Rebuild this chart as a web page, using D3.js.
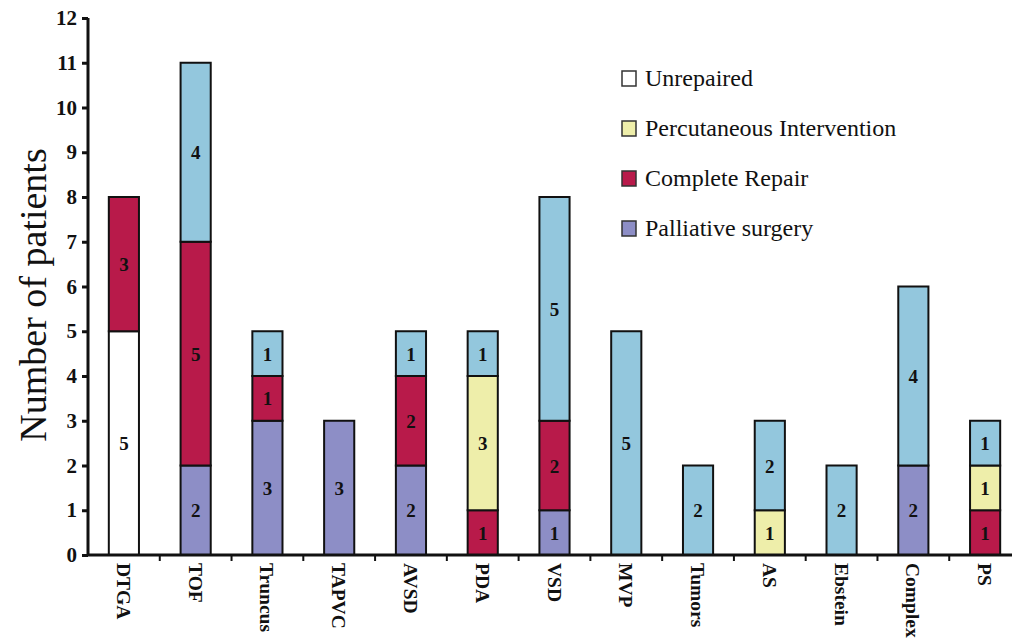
<!DOCTYPE html>
<html>
<head>
<meta charset="utf-8">
<script src="https://cdn.jsdelivr.net/npm/d3@7"></script>
<style>
body { margin: 0; background: #fff; }
text { font-family: "Liberation Serif", "DejaVu Serif", serif; }
</style>
</head>
<body>
<script>
// data
var categories = ["DTGA", "TOF", "Truncus", "TAPVC", "AVSD", "PDA", "VSD", "MVP", "Tumors", "AS", "Ebstein", "Complex", "PS"];
var unrepaired   = [5, 0, 0, 0, 0, 0, 0, 0, 0, 0, 0, 0, 0];
var palliative   = [0, 2, 3, 3, 2, 0, 1, 0, 0, 0, 0, 2, 0];
var complete     = [3, 5, 1, 0, 2, 1, 2, 0, 0, 0, 0, 0, 1];
var percutaneous = [0, 0, 0, 0, 0, 3, 0, 0, 0, 1, 0, 0, 1];
var other        = [0, 4, 1, 0, 1, 1, 5, 5, 2, 2, 2, 4, 1];
var yTicks = [0, 1, 2, 3, 4, 5, 6, 7, 8, 9, 10, 11, 12];
var legendNames = ["Unrepaired", "Percutaneous Intervention", "Complete Repair", "Palliative surgery"];

var series = [
  {key: "Unrepaired", values: unrepaired, color: "#ffffff"},
  {key: "Palliative surgery", values: palliative, color: "#8d8ec6"},
  {key: "Complete Repair", values: complete, color: "#b81a4a"},
  {key: "Percutaneous Intervention", values: percutaneous, color: "#eeeeaa"},
  {key: "Other", values: other, color: "#93c7dd"}
];
var colorOf = {};
series.forEach(function(s) { colorOf[s.key] = s.color; });

var width = 1012, height = 641;
var svg = d3.select("body").append("svg").attr("width", width).attr("height", height);

var x = d3.scaleBand().domain(categories).range([88, 1021]).paddingInner(0.58).paddingOuter(0.29);
var y = d3.scaleLinear().domain([0, 12]).range([555, 18]);

var rows = categories.map(function(c, i) {
  var r = {cat: c};
  series.forEach(function(s) { r[s.key] = s.values[i]; });
  return r;
});
var stacked = d3.stack().keys(series.map(function(s) { return s.key; }))(rows);

var layer = svg.selectAll(".layer").data(stacked).enter().append("g").attr("class", "layer");
layer.selectAll("rect")
  .data(function(d) { return d.map(function(v) { return {key: d.key, v: v}; }); })
  .enter().filter(function(d) { return d.v[1] - d.v[0] > 0; })
  .append("rect")
  .attr("x", function(d) { return x(d.v.data.cat); })
  .attr("y", function(d) { return y(d.v[1]); })
  .attr("width", x.bandwidth())
  .attr("height", function(d) { return y(d.v[0]) - y(d.v[1]); })
  .attr("fill", function(d) { return colorOf[d.key]; })
  .attr("stroke", "#111")
  .attr("stroke-width", 2);

layer.selectAll("text")
  .data(function(d) { return d.map(function(v) { return {key: d.key, v: v}; }); })
  .enter().filter(function(d) { return d.v[1] - d.v[0] > 0; })
  .append("text")
  .attr("x", function(d) { return x(d.v.data.cat) + x.bandwidth() / 2; })
  .attr("y", function(d) { return y((d.v[0] + d.v[1]) / 2) + 7; })
  .attr("text-anchor", "middle")
  .attr("font-size", 19)
  .attr("font-weight", "bold")
  .attr("fill", "#111")
  .text(function(d) { return d.v[1] - d.v[0]; });

// y axis
var yAxis = svg.append("g")
  .attr("transform", "translate(88,0)")
  .call(d3.axisLeft(y).tickValues(yTicks).tickSize(6).tickFormat(d3.format("d")));
yAxis.select(".domain").attr("stroke", "#111").attr("stroke-width", 3).attr("d", "M0,555V18");
yAxis.selectAll(".tick line").attr("stroke", "#111").attr("stroke-width", 3);
yAxis.selectAll(".tick text")
  .attr("font-family", "Liberation Serif, serif")
  .attr("font-size", 21).attr("font-weight", "bold").attr("fill", "#111").attr("x", -11);

// x axis
var step = x.step();
svg.append("line").attr("x1", 87).attr("x2", 1012).attr("y1", 555).attr("y2", 555)
  .attr("stroke", "#111").attr("stroke-width", 3);
svg.selectAll(".xtick").data(categories.slice(1)).enter().append("line")
  .attr("class", "xtick")
  .attr("x1", function(d) { return x(d) - (step - x.bandwidth()) / 2; })
  .attr("x2", function(d) { return x(d) - (step - x.bandwidth()) / 2; })
  .attr("y1", 555).attr("y2", 561)
  .attr("stroke", "#111").attr("stroke-width", 2);

svg.selectAll(".xlabel").data(categories).enter().append("text")
  .attr("class", "xlabel")
  .attr("transform", function(d) { return "translate(" + (x(d) + x.bandwidth() / 2 - 7) + ",563) rotate(90)"; })
  .attr("text-anchor", "start")
  .attr("font-size", 19.5)
  .attr("font-weight", "bold")
  .attr("fill", "#111")
  .text(function(d) { return d; });

// y title
svg.append("text")
  .attr("transform", "translate(46,295) rotate(-90)")
  .attr("text-anchor", "middle")
  .attr("font-size", 38)
  .attr("fill", "#111")
  .text("Number of patients");

// legend
var legend = svg.selectAll(".legend").data(legendNames).enter().append("g")
  .attr("class", "legend")
  .attr("transform", function(d, i) { return "translate(622," + (78 + i * 50) + ")"; });
legend.append("rect").attr("x", 0).attr("y", -7).attr("width", 14).attr("height", 15)
  .attr("fill", function(d) { return colorOf[d]; })
  .attr("stroke", "#333").attr("stroke-width", 1.5);
legend.append("text").attr("x", 23).attr("y", 8)
  .attr("font-size", 24).attr("fill", "#111")
  .text(function(d) { return d; });
</script>
</body>
</html>
